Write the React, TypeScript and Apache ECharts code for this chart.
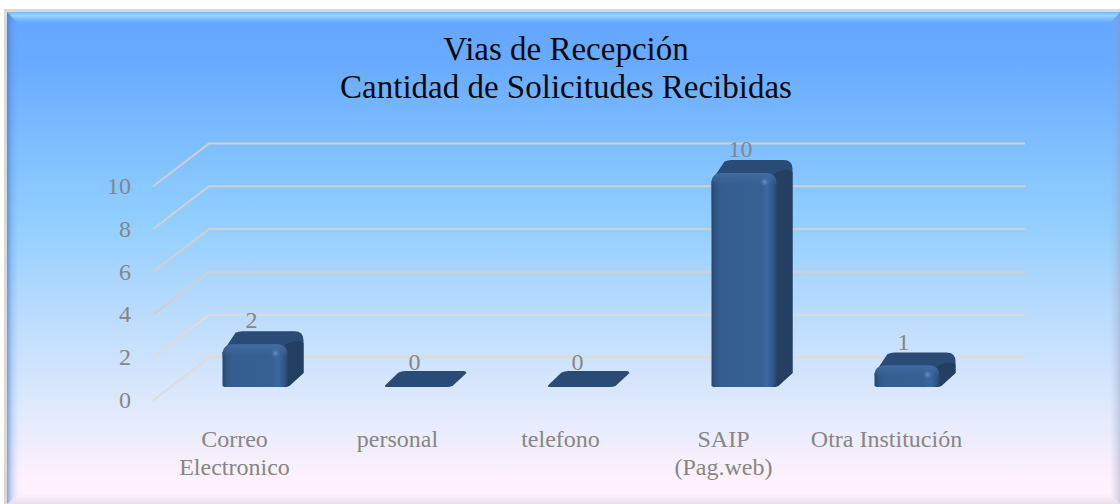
import React, { useEffect, useRef } from "react";
import * as echarts from "echarts";

const titleLines = ["Vias de Recepción", "Cantidad de Solicitudes Recibidas"];
const categories = ["Correo\nElectronico", "personal", "telefono", "SAIP\n(Pag.web)", "Otra Institución"];
const solicitudes = [2, 0, 0, 10, 1];
const wallTicks = [0, 2, 4, 6, 8, 10];

const FONT = "'Liberation Serif', 'Times New Roman', serif";
const TEXT = "#868686";
const WALL_DX = 56;
const WALL_DY = 43;
const BAR_W = 65;
const BAR_DX = 16;
const BAR_OFF_X = 20.5;
const BAR_OFF_Y = 13;

const wallLines = (params: any, api: any) => {
  const [cx, y] = api.coord([0, api.value(1)]);
  const band = api.size([1, 0])[0];
  const x0 = cx - band / 2;
  const xEnd = x0 + band * categories.length + WALL_DX + 1;
  const v = api.value(1);
  const stroke = v <= 2 ? "rgba(224,220,212,0.9)" : "rgba(208,208,210,1)";
  return {
    type: "polyline",
    silent: true,
    shape: {
      points: [
        [x0, y + 0.5],
        [x0 + WALL_DX, y - WALL_DY + 0.5],
        [xEnd, y - WALL_DY + 0.5],
      ],
    },
    style: { fill: "none", stroke, lineWidth: 2 },
  };
};

const bar3d = (params: any, api: any) => {
  const [cx, yTop] = api.coord([api.value(0), api.value(1)]);
  const [, yBase] = api.coord([api.value(0), 0]);
  const L = cx + BAR_OFF_X - BAR_W / 2;
  const R = L + BAR_W;
  const B = yBase - BAR_OFF_Y;
  const T = yTop - BAR_OFF_Y;
  const h = B - T;
  const dx = BAR_DX;
  const dy = h > 0 ? 13 : 16;
  const r = h > 0 ? 9 : 3;
  const sideBottom = h > 0 ? B - 14 : B - dy + 2;
  const silhouette = [
    `M ${L + 2} ${B}`,
    h > 0 ? `L ${L} ${T + 8}` : `Q ${L - 2} ${B} ${L} ${B - 2}`,
    `L ${L + dx - 3} ${T - dy + 1.5}`,
    `Q ${L + dx} ${T - dy} ${L + dx + 4} ${T - dy}`,
    `L ${R + dx - r} ${T - dy}`,
    `Q ${R + dx} ${T - dy} ${R + dx} ${T - dy + r}`,
    `L ${R + dx} ${sideBottom}`,
    `L ${R + 2} ${B - 1}`,
    `Q ${R} ${B} ${R - 4} ${B}`,
    "Z",
  ].join(" ");
  const children: any[] = [
    { type: "path", shape: { pathData: silhouette }, style: { fill: "#2a4b75" } },
  ];
  if (h > 0) {
    const fr = Math.min(11, h / 2);
    children.push({
      type: "path",
      shape: {
        pathData: [
          `M ${R - 3} ${T + 1}`,
          `Q ${R + dx - 6} ${T - dy + 7} ${R + dx} ${T - dy + r + 3}`,
          `L ${R + dx} ${sideBottom}`,
          `L ${R + 1} ${B - 1}`,
          `L ${R - 3} ${B}`,
          "Z",
        ].join(" "),
      },
      style: { fill: "#233f61" },
    });
    const front = [
      `M ${L + 2} ${B}`,
      `L ${L} ${B - 1}`,
      `L ${L} ${T + fr}`,
      `Q ${L} ${T} ${L + fr} ${T}`,
      `L ${R - fr} ${T}`,
      `Q ${R} ${T} ${R} ${T + fr}`,
      `L ${R} ${B - 6}`,
      `Q ${R} ${B} ${R - 8} ${B}`,
      "Z",
    ].join(" ");
    children.push({
      type: "path",
      shape: { pathData: front },
      style: {
        fill: {
          type: "linear",
          x: 0,
          y: 0,
          x2: 1,
          y2: 0,
          colorStops: [
            { offset: 0, color: "#27476f" },
            { offset: 0.07, color: "#315885" },
            { offset: 0.16, color: "#355e90" },
            { offset: 0.75, color: "#365f92" },
            { offset: 0.86, color: "#3b689f" },
            { offset: 0.95, color: "#2f5686" },
            { offset: 1, color: "#29496f" },
          ],
        },
      },
    });
    const bandH = Math.min(11, h * 0.45);
    children.push({
      type: "path",
      shape: {
        pathData: [
          `M ${L} ${T + fr}`,
          `Q ${L} ${T} ${L + fr} ${T}`,
          `L ${R - fr} ${T}`,
          `Q ${R} ${T} ${R} ${T + fr}`,
          `L ${R} ${T + bandH + 2}`,
          `L ${L} ${T + bandH + 2}`,
          "Z",
        ].join(" "),
      },
      style: {
        fill: {
          type: "linear",
          x: 0,
          y: 0,
          x2: 0,
          y2: 1,
          colorStops: [
            { offset: 0, color: "rgba(66,110,164,0.9)" },
            { offset: 0.6, color: "rgba(60,102,154,0.5)" },
            { offset: 1, color: "rgba(54,95,146,0)" },
          ],
        },
      },
    });
    children.push({
      type: "circle",
      shape: { cx: R - 12, cy: T + 9, r: 5 },
      style: {
        fill: {
          type: "radial",
          x: 0.5,
          y: 0.5,
          r: 0.5,
          colorStops: [
            { offset: 0, color: "rgba(108,150,208,0.9)" },
            { offset: 1, color: "rgba(70,115,170,0)" },
          ],
        },
      },
    });
  }
  children.push({
    type: "text",
    style: {
      text: String(api.value(1)),
      x: L + 29,
      y: T - dy - (h > 0 ? 11 : 9),
      textAlign: "center",
      textVerticalAlign: "middle",
      font: `24px ${FONT}`,
      fill: TEXT,
    },
  });
  return { type: "group", children };
};

const vGrad = (stops: [number, string][]) => ({
  type: "linear",
  x: 0,
  y: 0,
  x2: 0,
  y2: 1,
  colorStops: stops.map(([offset, color]) => ({ offset, color })),
});
const hGrad = (stops: [number, string][]) => ({
  type: "linear",
  x: 0,
  y: 0,
  x2: 1,
  y2: 0,
  colorStops: stops.map(([offset, color]) => ({ offset, color })),
});

export default function App() {
  const ref = useRef<HTMLDivElement>(null);
  useEffect(() => {
    const chart = echarts.init(ref.current!, undefined, { renderer: "svg" });
    chart.setOption({
      animation: false,
      backgroundColor: "#ffffff",
      title: {
        text: titleLines.join("\n"),
        left: 561,
        top: 25,
        textAlign: "center",
        textStyle: {
          fontFamily: FONT,
          fontSize: 33,
          fontWeight: "normal",
          color: "#0a0a0a",
          lineHeight: 38,
        },
      },
      grid: { left: 153, top: 186, width: 815, height: 214, containLabel: false },
      xAxis: {
        type: "category",
        data: categories,
        axisLine: { show: false },
        axisTick: { show: false },
        axisLabel: {
          margin: 25,
          interval: 0,
          fontFamily: FONT,
          fontSize: 24,
          color: TEXT,
          lineHeight: 28,
        },
      },
      yAxis: {
        type: "value",
        min: 0,
        max: 10,
        interval: 2,
        axisLine: { show: false },
        axisTick: { show: false },
        splitLine: { show: false },
        axisLabel: { margin: 22, fontFamily: FONT, fontSize: 24, color: TEXT },
      },
      series: [
        {
          type: "custom",
          name: "wall",
          silent: true,
          z: 1,
          renderItem: wallLines,
          data: wallTicks.map((v) => [0, v]),
          encode: { x: 0, y: 1 },
        },
        {
          type: "custom",
          name: "Solicitudes",
          z: 2,
          renderItem: bar3d,
          data: solicitudes.map((v, i) => [i, v]),
          encode: { x: 0, y: 1 },
        },
      ],
      graphic: [
        { type: "rect", z: -10, silent: true, shape: { x: 4, y: 9, width: 1116, height: 495 }, style: { fill: "#d9d9d9" } },
        {
          type: "rect",
          z: -9,
          silent: true,
          shape: { x: 7, y: 12, width: 1113, height: 492 },
          style: {
            fill: vGrad([
              [0, "#64a6ff"],
              [0.1, "#68aaff"],
              [0.25, "#7cbcff"],
              [0.42, "#90ceff"],
              [0.62, "#bcdcfd"],
              [0.8, "#dfe9fc"],
              [0.95, "#fff1fd"],
              [1, "#fff1fd"],
            ]),
          },
        },
        {
          type: "polygon",
          z: -8,
          silent: true,
          shape: { points: [[7, 12], [1120, 12], [1110, 24], [19, 24]] },
          style: {
            fill: vGrad([
              [0, "rgba(120,190,255,0.7)"],
              [0.3, "rgba(165,225,255,0.85)"],
              [1, "rgba(120,180,255,0)"],
            ]),
          },
        },
        {
          type: "polygon",
          z: -8,
          silent: true,
          shape: { points: [[7, 12], [19, 24], [19, 494], [7, 504]] },
          style: {
            fill: hGrad([
              [0, "rgba(60,110,190,0.6)"],
              [0.45, "rgba(80,140,220,0.22)"],
              [1, "rgba(100,160,240,0)"],
            ]),
          },
        },
        {
          type: "polygon",
          z: -8,
          silent: true,
          shape: { points: [[1120, 12], [1120, 504], [1110, 494], [1110, 24]] },
          style: {
            fill: hGrad([
              [0, "rgba(160,170,200,0)"],
              [1, "rgba(140,150,180,0.4)"],
            ]),
          },
        },
        {
          type: "polygon",
          z: -8,
          silent: true,
          shape: { points: [[19, 494], [1110, 494], [1120, 504], [7, 504]] },
          style: {
            fill: vGrad([
              [0, "rgba(200,190,210,0)"],
              [1, "rgba(190,180,205,0.35)"],
            ]),
          },
        },
      ],
    });
    return () => chart.dispose();
  }, []);
  return <div ref={ref} style={{ position: "absolute", left: 0, top: 0, width: 1120, height: 504 }} />;
}
